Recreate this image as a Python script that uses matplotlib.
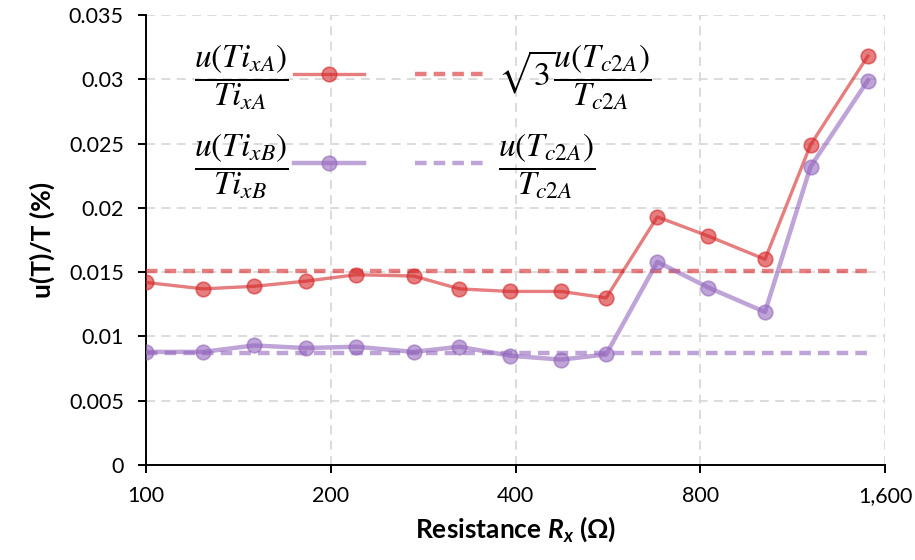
import matplotlib
matplotlib.use("Agg")
import matplotlib.pyplot as plt
from matplotlib.ticker import FixedLocator, FuncFormatter, NullLocator

plt.rcParams["font.family"] = ["Lato", "DejaVu Sans"]
plt.rcParams["mathtext.it"] = "Lato:italic:bold"
plt.rcParams["mathtext.rm"] = "Lato:bold"
plt.rcParams["mathtext.bf"] = "Lato:bold"

# Measured resistances (ohm)
resistance = [100, 124, 150, 182, 220, 273, 324, 392, 475, 562, 681, 825, 1020, 1210, 1500]

# Relative uncertainties u(T)/T
u_ti_xa = [0.0142, 0.0137, 0.0139, 0.0143, 0.0148, 0.0147, 0.0137, 0.0135,
           0.0135, 0.0130, 0.0193, 0.0178, 0.0160, 0.0249, 0.0318]
u_ti_xb = [0.0088, 0.0088, 0.0093, 0.0091, 0.0092, 0.0088, 0.0092, 0.0085,
           0.0082, 0.0086, 0.0158, 0.0138, 0.0119, 0.0232, 0.0299]

# Reference levels from the c2A calibration
sqrt3_u_tc2a = 0.0151
u_tc2a = 0.0087

x_ticks = [100, 200, 400, 800, 1600]
y_ticks = [0, 0.005, 0.01, 0.015, 0.02, 0.025, 0.03, 0.035]

red = "#d62728"
purple = "#9467bd"

fig = plt.figure(figsize=(9.15, 5.6), dpi=100)
ax = fig.add_axes([0.1596, 0.1696, 0.8076, 0.8036])

ax.set_xscale("log", base=2)
ax.set_xlim(100, 1600)
ax.set_ylim(0, 0.035)

l1, = ax.plot(resistance, u_ti_xa, color=red, alpha=0.6, lw=2.4,
              marker="o", ms=10.5, mfc=red, mec=red, mew=1.2, zorder=4)
l2, = ax.plot(resistance, u_ti_xb, color=purple, alpha=0.6, lw=3.2,
              marker="o", ms=10.5, mfc=purple, mec=purple, mew=1.2, zorder=4)
l3, = ax.plot(resistance, [sqrt3_u_tc2a] * len(resistance), color=red, alpha=0.6,
              lw=3.2, ls=(0, (2.6, 1.6)), zorder=3)
l4, = ax.plot(resistance, [u_tc2a] * len(resistance), color=purple, alpha=0.6,
              lw=3.2, ls=(0, (2.6, 1.6)), zorder=3)

ax.xaxis.set_major_locator(FixedLocator(x_ticks))
ax.xaxis.set_minor_locator(NullLocator())
ax.xaxis.set_major_formatter(FuncFormatter(lambda v, p: f"{int(round(v)):,}"))
ax.yaxis.set_major_locator(FixedLocator(y_ticks))
ax.yaxis.set_major_formatter(FuncFormatter(lambda v, p: f"{v:g}"))

ax.grid(True, color="#d9d9d9", lw=1.3, ls=(0, (5, 3.5)), zorder=0)
ax.set_axisbelow(True)

for s in ("top", "right"):
    ax.spines[s].set_visible(False)
for s in ("left", "bottom"):
    ax.spines[s].set_linewidth(1.4)
    ax.spines[s].set_color("black")

ax.tick_params(axis="both", labelsize=15.5, colors="black", width=1.4, length=6)
ax.tick_params(axis="x", direction="out", pad=9)
ax.tick_params(axis="y", direction="out", pad=10)

ax.set_xlabel(r"Resistance $R_x$ (Ω)", fontsize=19, fontweight="bold",
              math_fontfamily="custom", labelpad=6)
ax.set_ylabel("u(T)/T (%)", fontsize=19, fontweight="bold", labelpad=10)

legend_font = {"size": 24, "math_fontfamily": "stix"}
lab1 = r"$\dfrac{u(Ti_{xA})}{Ti_{xA}}$"
lab2 = r"$\dfrac{u(Ti_{xB})}{Ti_{xB}}$"
lab3 = r"$\sqrt{3}\dfrac{u(T_{c2A})}{T_{c2A}}$"
lab4 = r"$\dfrac{u(T_{c2A})}{T_{c2A}}$"

leg1 = ax.legend([l1, l2], [lab1, lab2], loc="center", bbox_to_anchor=(0.18, 0.764),
                 frameon=False, markerfirst=False, numpoints=1, handlelength=2.1,
                 handletextpad=0.15, labelspacing=0.57, prop=legend_font)
ax.add_artist(leg1)
leg2 = ax.legend([l3, l4], [lab3, lab4], loc="center", bbox_to_anchor=(0.524, 0.764),
                 frameon=False, markerfirst=True, numpoints=1, handlelength=2.1,
                 handletextpad=0.4, labelspacing=0.57, prop=legend_font)

fig.savefig("out.png", dpi=100)
